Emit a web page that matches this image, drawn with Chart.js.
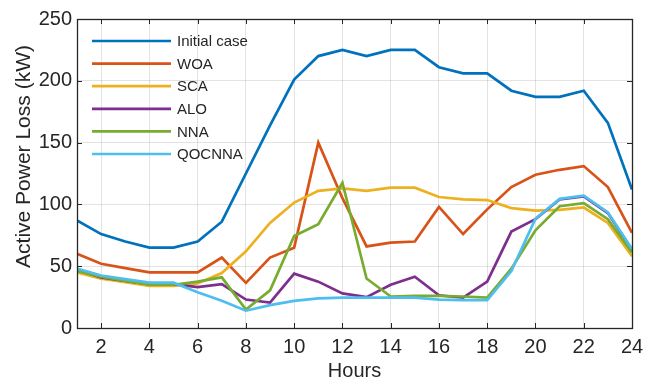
<!DOCTYPE html>
<html>
<head>
<meta charset="utf-8">
<script src="https://cdn.jsdelivr.net/npm/chart.js@4.4.1/dist/chart.umd.min.js"></script>
<style>
  html, body { margin: 0; padding: 0; background: #ffffff; }
  canvas { display: block; }
</style>
</head>
<body>
<canvas id="lossChart" width="657" height="385"></canvas>
<script>
// Hourly active power loss (kW) for each method
const hours = [1, 2, 3, 4, 5, 6, 7, 8, 9, 10, 11, 12, 13, 14, 15, 16, 17, 18, 19, 20, 21, 22, 23, 24];

const initialCase = [87, 76, 70, 65, 65, 70, 86, 125, 164, 201, 220, 225, 220, 225, 225, 211, 206, 206, 192, 187, 187, 192, 166, 112];
const woa         = [60, 52, 48.5, 45, 45, 45, 57, 36.5, 57, 65, 150, 105, 66, 69, 70, 98, 76, 96, 114, 124, 128, 131, 114, 77];
const sca         = [45, 40, 37, 34, 34, 36, 44.5, 62, 85, 101.5, 111, 113, 111, 113.5, 113.5, 106, 104, 103.5, 97, 95, 95.5, 97.5, 85, 58];
const alo         = [47, 41, 38, 35.5, 35.5, 33, 35.5, 23, 20.5, 44, 37.5, 28, 25, 35, 41.5, 26.5, 24.5, 37.5, 78, 88, 104, 106.5, 93, 63];
const nna         = [46, 41.5, 38, 35, 35, 37.5, 41, 15, 30.5, 74.5, 84, 117.5, 40, 25.5, 26, 26, 25.5, 24.5, 48, 79, 98.5, 101, 88, 61];
const qocnna      = [48, 42.5, 39.5, 36.7, 36.7, 29, 22, 14, 18.5, 22, 24, 24.5, 24.5, 24.5, 24.5, 23, 22.5, 22.5, 46, 88.5, 104.5, 107, 93.5, 64];

const seriesNames  = ['Initial case', 'WOA', 'SCA', 'ALO', 'NNA', 'QOCNNA'];
const seriesValues = [initialCase, woa, sca, alo, nna, qocnna];
const seriesColors = ['#0072BD', '#D95319', '#EDB120', '#7E2F8E', '#77AC30', '#4DBEEE'];

// Axis ticks and titles
const xTickValues = [2, 4, 6, 8, 10, 12, 14, 16, 18, 20, 22, 24];
const yTickValues = [0, 50, 100, 150, 200, 250];
const xTitle = 'Hours';
const yTitle = 'Active Power Loss (kW)';

const INK = '#262626';
const GRID = 'rgba(38,38,38,0.13)';
const FONT = "'Liberation Sans', Arial, Helvetica, sans-serif";
const LINE_W = 2.7;

Chart.defaults.font.family = FONT;
Chart.defaults.color = INK;

const datasets = seriesNames.map((name, i) => ({
  label: name,
  data: hours.map((h, k) => ({ x: h, y: seriesValues[i][k] })),
  borderColor: seriesColors[i],
  backgroundColor: seriesColors[i],
  borderWidth: LINE_W,
  pointRadius: 0,
  tension: 0,
  fill: false,
  // later series sit on top
  order: seriesNames.length - 1 - i
}));

// Box frame with inward ticks on all four sides, plus the vertical axis title
const framePlugin = {
  id: 'frame',
  afterDraw(chart) {
    const { ctx, chartArea: a, scales } = chart;
    const tl = 5;
    ctx.save();
    ctx.strokeStyle = INK;
    ctx.lineWidth = 1;
    ctx.beginPath();
    xTickValues.forEach(v => {
      const px = Math.round(scales.x.getPixelForValue(v)) + 0.5;
      ctx.moveTo(px, a.bottom); ctx.lineTo(px, a.bottom - tl);
      ctx.moveTo(px, a.top);    ctx.lineTo(px, a.top + tl);
    });
    yTickValues.forEach(v => {
      const py = Math.round(scales.y.getPixelForValue(v)) + 0.5;
      ctx.moveTo(a.left, py);  ctx.lineTo(a.left + tl, py);
      ctx.moveTo(a.right, py); ctx.lineTo(a.right - tl, py);
    });
    ctx.stroke();
    ctx.lineWidth = 1.3;
    ctx.strokeRect(Math.round(a.left) + 0.5, Math.round(a.top) + 0.5,
                   Math.round(a.right - a.left), Math.round(a.bottom - a.top));

    // y-axis title, rotated
    ctx.translate(24, (a.top + a.bottom) / 2 - 17);
    ctx.rotate(-Math.PI / 2);
    ctx.font = "21px " + FONT;
    ctx.fillStyle = INK;
    ctx.textAlign = 'center';
    ctx.textBaseline = 'middle';
    ctx.fillText(yTitle, 0, 0);
    ctx.restore();
  }
};

// Legend inside the plot, top-left
const insideLegend = {
  id: 'insideLegend',
  afterDatasetsDraw(chart) {
    const { ctx, chartArea: a } = chart;
    const x0 = a.left + 15, x1 = a.left + 94, tx = a.left + 100;
    const y0 = a.top + 22, dy = 22.6;
    ctx.save();
    ctx.font = "15px " + FONT;
    ctx.textBaseline = 'middle';
    ctx.textAlign = 'left';
    chart.data.datasets.forEach((ds, i) => {
      const y = y0 + i * dy;
      ctx.strokeStyle = ds.borderColor;
      ctx.lineWidth = LINE_W;
      ctx.beginPath();
      ctx.moveTo(x0, y); ctx.lineTo(x1, y);
      ctx.stroke();
      ctx.fillStyle = INK;
      ctx.fillText(ds.label, tx, y + 1);
    });
    ctx.restore();
  }
};

new Chart(document.getElementById('lossChart'), {
  type: 'line',
  data: { datasets },
  options: {
    responsive: false,
    animation: false,
    devicePixelRatio: 1,
    layout: { padding: { top: 19, right: 25, bottom: 0, left: 0 } },
    plugins: { legend: { display: false }, tooltip: { enabled: false } },
    scales: {
      x: {
        type: 'linear',
        min: 1,
        max: 24,
        afterBuildTicks: s => { s.ticks = xTickValues.map(v => ({ value: v })); },
        afterFit: s => { s.height = 57; },
        ticks: { font: { size: 20 }, color: INK, padding: 7, maxRotation: 0, autoSkip: false },
        grid: { color: GRID, drawTicks: false },
        border: { display: false },
        title: { display: true, text: xTitle, font: { size: 20 }, color: INK, padding: { top: 0, bottom: 2 } }
      },
      y: {
        type: 'linear',
        min: 0,
        max: 250,
        afterBuildTicks: s => { s.ticks = yTickValues.map(v => ({ value: v })); },
        afterFit: s => { s.width = 77; },
        ticks: { font: { size: 20 }, color: INK, padding: 5 },
        grid: { color: GRID, drawTicks: false },
        border: { display: false },
        title: { display: false }
      }
    }
  },
  plugins: [framePlugin, insideLegend]
});
</script>
</body>
</html>
